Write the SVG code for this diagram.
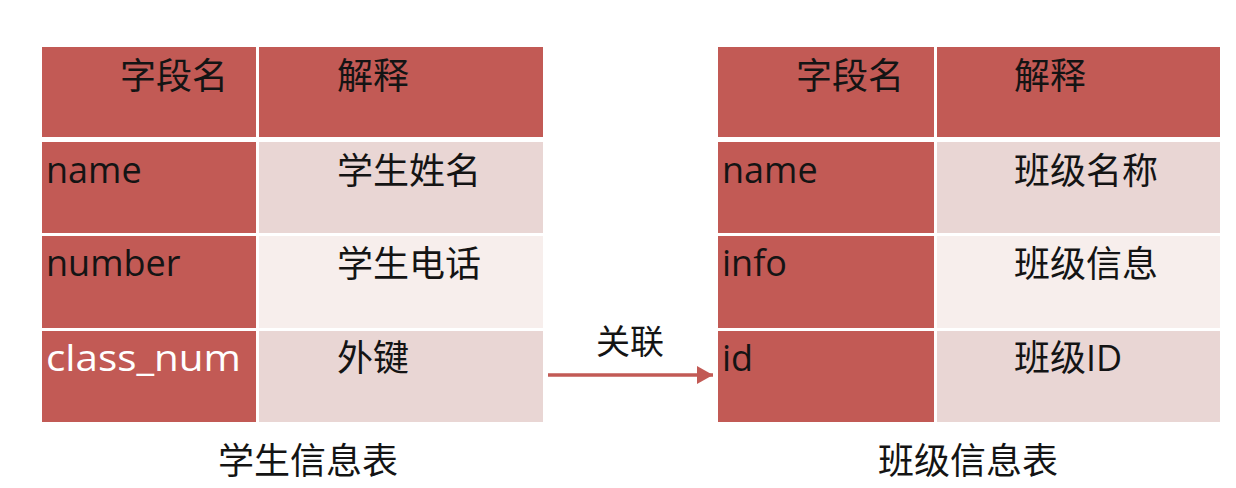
<svg xmlns="http://www.w3.org/2000/svg" width="1236" height="488" viewBox="0 0 1236 488">
<style>
.dk{fill:#C25A55}
.l1{fill:#E9D6D4}
.l2{fill:#F7EEEC}
text{font-family:"Open Sans","Noto Sans CJK SC",sans-serif;font-size:36px;fill:#141414}
.w{fill:#ffffff}
.cap{font-size:36px}
</style>
<defs>
<marker id="ah" markerWidth="16" markerHeight="18" refX="16" refY="9" orient="auto" markerUnits="userSpaceOnUse" viewBox="0 0 16 18">
<path d="M0,0 L16,9 L0,18 Z" fill="#C25A55"/>
</marker>
</defs>
<rect width="1236" height="488" fill="#ffffff"/>
<g id="student-table">
<rect class="dk" x="42" y="47" width="214" height="90"/>
<rect class="dk" x="259" y="47" width="284" height="90"/>
<rect class="dk" x="42" y="142" width="214" height="91"/>
<rect class="l1" x="259" y="142" width="284" height="91"/>
<rect class="dk" x="42" y="236" width="214" height="92"/>
<rect class="l2" x="259" y="236" width="284" height="92"/>
<rect class="dk" x="42" y="331" width="214" height="91"/>
<rect class="l1" x="259" y="331" width="284" height="91"/>
<text x="120" y="89">字段名</text>
<text x="337" y="89">解释</text>
<text x="46" y="183">name</text>
<text x="337" y="184">学生姓名</text>
<text x="46" y="276">number</text>
<text x="337" y="277">学生电话</text>
<text class="w" x="46" y="371" textLength="195" lengthAdjust="spacingAndGlyphs">class_num</text>
<text x="337" y="371">外键</text>
<text class="cap" x="218" y="474">学生信息表</text>
</g>
<g id="class-table">
<rect class="dk" x="718" y="47" width="216" height="90"/>
<rect class="dk" x="937" y="47" width="283" height="90"/>
<rect class="dk" x="718" y="142" width="216" height="91"/>
<rect class="l1" x="937" y="142" width="283" height="91"/>
<rect class="dk" x="718" y="236" width="216" height="92"/>
<rect class="l2" x="937" y="236" width="283" height="92"/>
<rect class="dk" x="718" y="331" width="216" height="91"/>
<rect class="l1" x="937" y="331" width="283" height="91"/>
<text x="796" y="89">字段名</text>
<text x="1014" y="89">解释</text>
<text x="722" y="183">name</text>
<text x="1014" y="184">班级名称</text>
<text x="722" y="276">info</text>
<text x="1014" y="277">班级信息</text>
<text x="722" y="371">id</text>
<text x="1014" y="371">班级ID</text>
<text class="cap" x="878" y="474">班级信息表</text>
</g>
<g id="connectors">
<line x1="548" y1="375" x2="713" y2="375" stroke="#C25A55" stroke-width="3.5" marker-end="url(#ah)"/>
<text x="596" y="354" style="font-size:34px">关联</text>
</g>
</svg>
